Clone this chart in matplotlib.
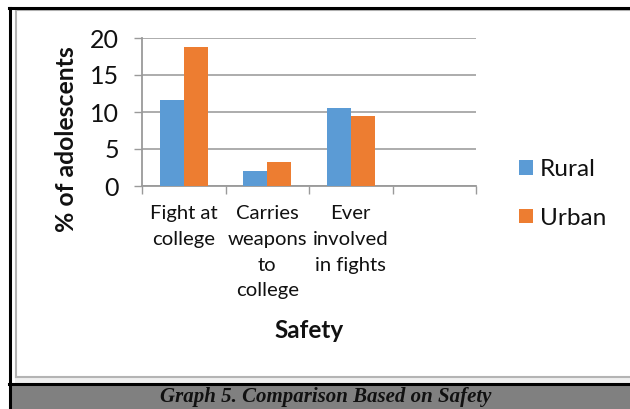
import matplotlib
matplotlib.use("Agg")
import matplotlib.pyplot as plt
from matplotlib.lines import Line2D
from matplotlib.patches import Rectangle, Patch
import numpy as np

categories = ["Fight at\ncollege", "Carries\nweapons\nto\ncollege", "Ever\ninvolved\nin fights", ""]
rural = [11.6, 2.0, 10.6, np.nan]
urban = [18.8, 3.2, 9.4, np.nan]
series_names = ["Rural", "Urban"]
series_colors = ["#5B9BD5", "#ED7D31"]
yticks = [0, 5, 10, 15, 20]
caption = "Graph 5. Comparison Based on Safety"

W, H = 630, 409
plt.rcParams["font.family"] = ["Lato", "DejaVu Sans"]
fig = plt.figure(figsize=(W / 100, H / 100), dpi=100)
fig.patch.set_facecolor("white")


def fx(x):
    return x / W


def fy(y):
    return 1 - y / H


# plot area
left, right, top, bottom = 142, 476, 38, 186
ax = fig.add_axes([fx(left), fy(bottom), fx(right - left), (bottom - top) / H])

x = np.arange(len(categories))
bw = 1 / 3.5
ax.bar(x - bw / 2, rural, bw, color=series_colors[0], label=series_names[0], zorder=3)
ax.bar(x + bw / 2, urban, bw, color=series_colors[1], label=series_names[1], zorder=3)

ax.set_xlim(-0.5, len(categories) - 0.5)
ax.set_ylim(0, 20)
ax.set_yticks(yticks)
ax.set_xticks(x)
ax.set_xticklabels(categories, fontsize=14.6, linespacing=1.62, color="#111111")
ax.set_xticks(np.arange(len(categories) + 1) - 0.5, minor=True)
ax.tick_params(axis="x", which="major", length=0, pad=14)
ax.tick_params(axis="x", which="minor", length=5.5, width=1, color="#9a9a9a", direction="out")
ax.tick_params(axis="y", length=5.5, width=1, color="#9a9a9a", labelsize=18, pad=11,
               labelcolor="#111111")

ax.grid(axis="y", color="#a6a6a6", linewidth=1.3, zorder=0)
for s in ["top", "right"]:
    ax.spines[s].set_visible(False)
for s in ["left", "bottom"]:
    ax.spines[s].set_color("#9a9a9a")
    ax.spines[s].set_linewidth(1.3)

fig.text(fx(67), fy(139), "% of adolescents", rotation=90, ha="center", va="center",
         fontsize=17.8, fontweight="bold", color="#111111")
fig.text(fx(309), fy(330), "Safety", ha="center", va="center",
         fontsize=17.5, fontweight="bold", color="#111111")

handles = [Patch(facecolor=c, label=n) for n, c in zip(series_names, series_colors)]
fig.legend(handles=handles, loc="center left", bbox_to_anchor=(fx(507), fy(194)),
           frameon=False, fontsize=17.6, handlelength=0.55, handleheight=0.55,
           handletextpad=0.3, labelspacing=1.12, borderpad=0, labelcolor="#111111")

# frame and caption bar
fig.add_artist(Rectangle((fx(11), 0), 1, fy(385), transform=fig.transFigure,
                         facecolor="#808080", edgecolor="none"))
fig.add_artist(Rectangle((fx(15), fy(383)), 1, (383 - 377) / H, transform=fig.transFigure,
                         facecolor="#efefef", edgecolor="none"))
gray = "#b4b4b4"
fig.add_artist(Line2D([fx(15.5), fx(15.5)], [fy(9.5), fy(377)], color=gray, lw=1.5,
                      transform=fig.transFigure))
fig.add_artist(Line2D([fx(15.5), 1], [fy(9.5), fy(9.5)], color=gray, lw=1.5,
                      transform=fig.transFigure))
fig.add_artist(Line2D([fx(15.5), 1], [fy(377), fy(377)], color=gray, lw=1.5,
                      transform=fig.transFigure))
fig.add_artist(Line2D([fx(10), fx(10)], [0, fy(7.5)], color="black", lw=2.2,
                      transform=fig.transFigure))
fig.add_artist(Line2D([fx(9), 1], [fy(7.5), fy(7.5)], color="black", lw=2.2,
                      transform=fig.transFigure))
fig.add_artist(Line2D([fx(9), 1], [fy(384), fy(384)], color="black", lw=2.2,
                      transform=fig.transFigure))

fig.text(fx(326), fy(397), caption, ha="center", va="center", fontsize=15,
         fontweight="bold", fontstyle="italic", family=["Liberation Serif", "DejaVu Serif"],
         color="#111111")

fig.savefig("out.png", dpi=100, facecolor="white")
